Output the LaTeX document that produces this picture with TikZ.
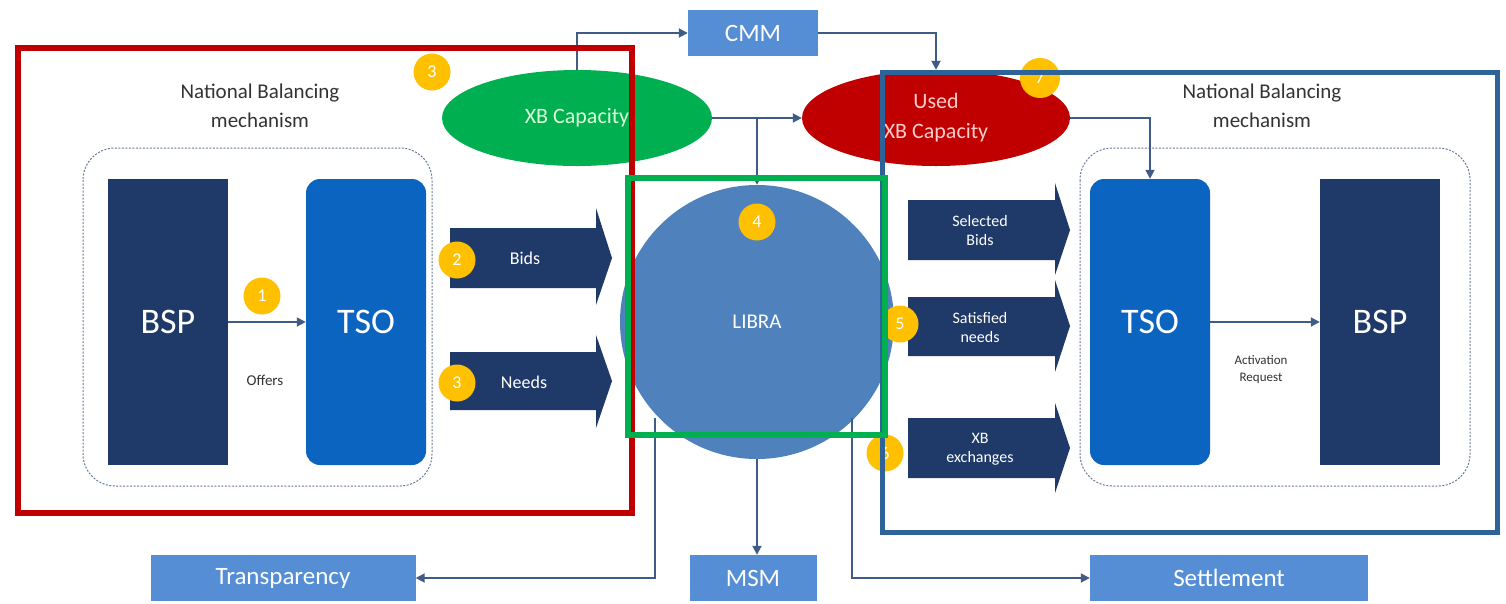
\documentclass[tikz,border=0pt]{standalone}
\usepackage{fontspec}
\setmainfont{Carlito}
\usetikzlibrary{arrows.meta,shapes.geometric}
\definecolor{navy}{HTML}{1F3A68}
\definecolor{tsoblue}{HTML}{0B64C0}
\definecolor{libra}{HTML}{4F81BD}
\definecolor{boxblue}{HTML}{558ED5}
\definecolor{linec}{HTML}{3E5C87}
\definecolor{xbgreen}{HTML}{00B050}
\definecolor{usedred}{HTML}{C00000}
\definecolor{badgey}{HTML}{FFC000}
\definecolor{frameblue}{HTML}{2E6399}
\definecolor{dashg}{HTML}{6A7A96}
\definecolor{txt}{HTML}{333333}
\begin{document}
\begin{tikzpicture}[x=1pt,y=-1pt,
  conn/.style={draw=linec, line width=1.8pt, -{Triangle[length=9pt,width=9pt]}},
  badge/.style={circle, fill=badgey, minimum size=37pt, inner sep=0pt, text=white, font=\fontsize{18}{18}\selectfont},
  lightbox/.style={fill=boxblue, text=white, minimum height=46pt, inner sep=0pt, font=\fontsize{25}{25}\selectfont},
  bigbox/.style={inner sep=0pt, minimum width=120pt, minimum height=286pt, text=white, font=\fontsize{36}{36}\selectfont},
  arrtext/.style={text=white, align=center, font=\fontsize{16}{19}\selectfont},
  title/.style={text=txt, align=center, font=\fontsize{21}{29}\selectfont},
  dashbox/.style={draw=dashg, line width=1pt, dash pattern=on 2pt off 1.5pt, rounded corners=32pt},
  frame/.style={line width=6pt}]
\useasboundingbox (0,0) rectangle (1506,603);
\fill[white] (0,0) rectangle (1506,603);

% dashed national boxes
\draw[dashbox] (83,148) rectangle (432,486);
\draw[dashbox] (1080,148) rectangle (1470,486);

% titles
\node[title] (titL) at (260,106) {National Balancing\\mechanism};
\node[title] (titR) at (1262,106) {National Balancing\\mechanism};

% main blocks
\node[bigbox, fill=navy] (bspL) at (168,322) {BSP};
\node[bigbox, fill=tsoblue, rounded corners=14pt] (tsoL) at (366,322) {TSO};
\node[bigbox, fill=tsoblue, rounded corners=14pt] (tsoR) at (1150,322) {TSO};
\node[bigbox, fill=navy] (bspR) at (1380,322) {BSP};

\draw[conn] (bspL.east) -- (tsoL.west);
\draw[conn] (tsoR.east) -- (bspR.west);
\node[text=txt, font=\fontsize{15}{15}\selectfont] (offers) at (265,380) {Offers};
\node[text=txt, align=center, font=\fontsize{13}{17}\selectfont] (act) at (1261,370) {Activation\\Request};

% big arrows
\fill[navy] (450,228) -- (596,228) -- (596,208) -- (612,258) -- (596,305) -- (596,288) -- (450,288) -- cycle;
\fill[navy] (450,352) -- (596,352) -- (596,335) -- (612,381) -- (596,428) -- (596,410) -- (450,410) -- cycle;
\fill[navy] (908,200) -- (1055,200) -- (1055,183) -- (1070,230) -- (1055,275) -- (1055,260) -- (908,260) -- cycle;
\fill[navy] (908,297) -- (1055,297) -- (1055,280) -- (1070,326) -- (1055,372) -- (1055,356) -- (908,356) -- cycle;
\fill[navy] (908,418) -- (1055,418) -- (1055,403) -- (1070,448) -- (1055,493) -- (1055,478) -- (908,478) -- cycle;
\node[arrtext, font=\fontsize{18}{18}\selectfont] (bids) at (525,258) {Bids};
\node[arrtext, font=\fontsize{18}{18}\selectfont] (needs) at (524,382) {Needs};
\node[arrtext] (sel) at (980,230) {Selected\\Bids};
\node[arrtext] (sat) at (980,327) {Satisfied\\needs};
\node[arrtext] (xbe) at (980,449) {XB\\exchanges};

% top elements
\node[lightbox, minimum width=130pt] (cmm) at (753,33) {CMM};
\node[ellipse, fill=xbgreen, minimum width=270pt, minimum height=96pt, inner sep=0pt,
      text=green!15, font=\fontsize{22}{22}\selectfont] (xb) at (577,118) {XB Capacity};
\node[ellipse, fill=usedred, minimum width=268pt, minimum height=96pt, inner sep=0pt,
      text=red!20, align=center, font=\fontsize{22}{30}\selectfont] (used) at (936,118) {Used\\XB Capacity};

% LIBRA
\node[circle, fill=libra, minimum size=274pt, inner sep=0pt, text=white,
      font=\fontsize{21}{21}\selectfont] (libra) at (757,322) {LIBRA};

% bottom boxes
\node[lightbox, minimum width=265pt] (transp) at (283,578) {Transparency};
\node[lightbox, minimum width=127pt] (msm) at (753,578) {MSM};
\node[lightbox, minimum width=278pt] (settle) at (1229,578) {Settlement};

% connectors
\draw[conn] (xb.north) |- (cmm.west);
\draw[conn] (cmm.east) -| (used.north);
\draw[conn] (xb.east) -- (used.west);
\coordinate (jn) at (757,118);
\draw[conn] (jn) -- (libra.north);
\draw[conn] (used.east) -| (tsoR.north);
\coordinate (lb1) at (655,418);
\coordinate (lb2) at (852,418);
\draw[conn] (lb1) |- (transp.east);
\draw[conn] (libra.south) -- (msm.north -| libra.south);
\draw[conn] (lb2) |- (settle.west);

% badges
\node[badge] (b1) at (262,296) {1};
\node[badge] (b2) at (457,260) {2};
\node[badge] (b3) at (457,383) {3};
\node[badge] (b3t) at (432,72) {3};
\node[badge] (b4) at (757,222) {4};
\node[badge] (b5) at (900,324) {5};
\node[badge] (b6) at (885,453) {6};
\node[badge, minimum size=40pt] (b7) at (1040,78) {7};

% highlight frames
\draw[frame, draw=usedred] (18,48) rectangle (632,513);
\draw[frame, draw=frameblue, line width=5pt] (882,72) rectangle (1497,532);
\draw[frame, draw=xbgreen] (628,178) rectangle (885,435);
\end{tikzpicture}
\end{document}
